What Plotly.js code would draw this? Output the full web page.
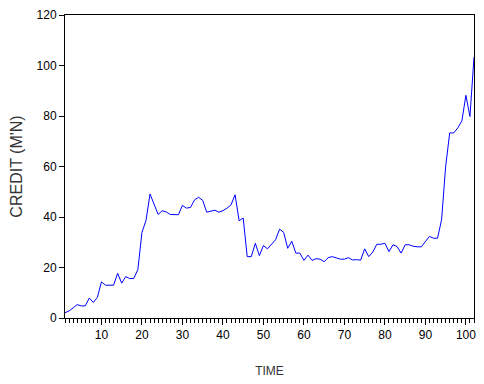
<!DOCTYPE html>
<html>
<head>
<meta charset="utf-8">
<script src="https://cdn.plot.ly/plotly-3.0.1.min.js"></script>
<style>html,body{margin:0;padding:0;background:#fff;}#chart{width:484px;height:384px;}</style>
</head>
<body>
<div id="chart"></div>
<script>
var time = [];
for (var t = 1; t <= 102; t++) time.push(t);

var credit = [
  2.1, 2.8, 4.0, 5.3, 4.8, 4.8, 7.9, 6.2, 8.2, 14.3,
  13.0, 13.0, 13.0, 17.7, 13.8, 16.4, 15.6, 15.7, 19.2, 33.9,
  38.6, 49.1, 44.8, 41.0, 42.5, 42.0, 41.0, 40.9, 40.9, 44.6,
  43.5, 43.8, 46.8, 47.8, 46.6, 41.9, 42.3, 42.7, 41.9, 42.5,
  43.5, 44.8, 48.8, 38.5, 39.6, 24.3, 24.3, 29.6, 24.7, 28.7,
  27.4, 29.0, 31.0, 35.2, 33.9, 27.6, 30.4, 25.7, 25.7, 22.8,
  24.9, 22.8, 23.5, 23.3, 22.3, 23.9, 24.3, 23.8, 23.3, 23.3,
  23.9, 23.0, 23.1, 22.9, 27.4, 24.3, 26.1, 29.2, 29.2, 29.6,
  26.3, 29.0, 28.3, 25.7, 29.0, 29.0, 28.4, 28.2, 28.2, 30.3,
  32.3, 31.6, 31.6, 39.0, 60.0, 73.3, 73.3, 75.3, 78.0, 88.2,
  79.8, 103.3
];

var xTickVals = [10, 20, 30, 40, 50, 60, 70, 80, 90, 100];
var yTickVals = [0, 20, 40, 60, 80, 100, 120];

var trace = {
  x: time,
  y: credit,
  type: 'scatter',
  mode: 'lines',
  line: {color: '#0000FF', width: 1},
  hoverinfo: 'skip'
};

var font = {family: 'Arial, "Liberation Sans", sans-serif', size: 12, color: '#000'};

var layout = {
  width: 484,
  height: 384,
  margin: {l: 65, r: 10, t: 15, b: 66},
  paper_bgcolor: '#fff',
  plot_bgcolor: '#fff',
  showlegend: false,
  font: font,
  xaxis: {
    range: [1, 102],
    tickmode: 'array',
    tickvals: xTickVals,
    ticktext: xTickVals.map(String),
    ticks: 'outside',
    ticklen: 6,
    tickcolor: '#000',
    tickwidth: 1,
    minor: {dtick: 1, tick0: 0, ticks: 'outside', ticklen: 4, tickcolor: '#000', tickwidth: 1, showgrid: false},
    showgrid: false,
    zeroline: false,
    showline: true,
    linecolor: '#000',
    linewidth: 1,
    mirror: true,
    tickfont: font,
    title: {text: 'TIME', font: {family: 'Arial, "Liberation Sans", sans-serif', size: 12, color: '#333'}, standoff: 25}
  },
  yaxis: {
    range: [0, 120],
    tickmode: 'array',
    tickvals: yTickVals,
    ticktext: yTickVals.map(String),
    ticks: 'outside',
    ticklen: 5,
    tickcolor: '#000',
    tickwidth: 1,
    showgrid: false,
    zeroline: false,
    showline: true,
    linecolor: '#000',
    linewidth: 1,
    mirror: true,
    tickfont: font,
    title: {text: "CREDIT (M'N)", font: {family: 'Arial, "Liberation Sans", sans-serif', size: 16, color: '#333'}, standoff: 9}
  }
};

Plotly.newPlot('chart', [trace], layout, {staticPlot: true, displayModeBar: false});
</script>
</body>
</html>
